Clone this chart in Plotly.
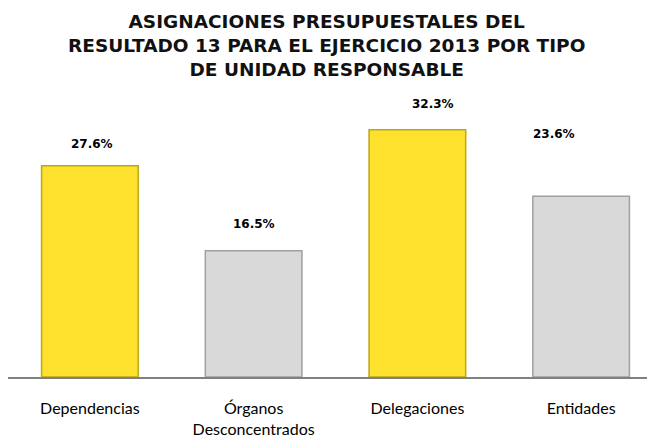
import plotly.graph_objects as go

categorias = ["Dependencias", "Órganos<br>Desconcentrados", "Delegaciones", "Entidades"]
porcentajes = [27.6, 16.5, 32.3, 23.6]
etiquetas = ["27.6%", "16.5%", "32.3%", "23.6%"]

colores = ["#FDE12D", "#D9D9D9", "#FDE12D", "#D9D9D9"]
bordes = ["#BFA71A", "#A0A0A0", "#BFA71A", "#A0A0A0"]
# label offsets in px (the original labels aren't placed uniformly)
desp_x = [2, 0, 16, -27]
desp_y = [22, 27, 26, 62]

titulo = ("ASIGNACIONES PRESUPUESTALES DEL<br>RESULTADO 13 PARA EL EJERCICIO 2013 POR TIPO"
          "<br>DE UNIDAD RESPONSABLE")

fig = go.Figure()
fig.add_trace(go.Bar(
    x=categorias, y=porcentajes,
    marker=dict(color=colores, line=dict(color=bordes, width=1.5)),
    width=0.59,
))

for c, v, t, dx, dy in zip(categorias, porcentajes, etiquetas, desp_x, desp_y):
    fig.add_annotation(x=c, y=v, text="<b>" + t + "</b>", showarrow=False,
                       xshift=dx, yshift=dy,
                       font=dict(family="DejaVu Sans, sans-serif", size=12, color="#000"))

# title as an annotation so it stays where the original puts it
fig.add_annotation(x=0.487, xref="paper", xanchor="center",
                   y=1.375, yref="paper", yanchor="top",
                   text=titulo, showarrow=False, align="center",
                   font=dict(family="DejaVu Sans, sans-serif", size=18.5, color="#111",
                             weight="bold"))

fig.update_layout(
    width=655, height=437,
    margin=dict(l=0, r=0, t=101, b=68, autoexpand=False),
    paper_bgcolor="white", plot_bgcolor="white",
    showlegend=False,
)
fig.update_xaxes(showline=True, linecolor="#808080", linewidth=2, ticks="",
                 automargin=False,
                 tickfont=dict(family="Lato, sans-serif", size=16, color="#000"),
                 ticklabelstandoff=16)
fig.update_yaxes(range=[0, 35], visible=False, showgrid=False, automargin=False)

fig.write_html("out.html")
